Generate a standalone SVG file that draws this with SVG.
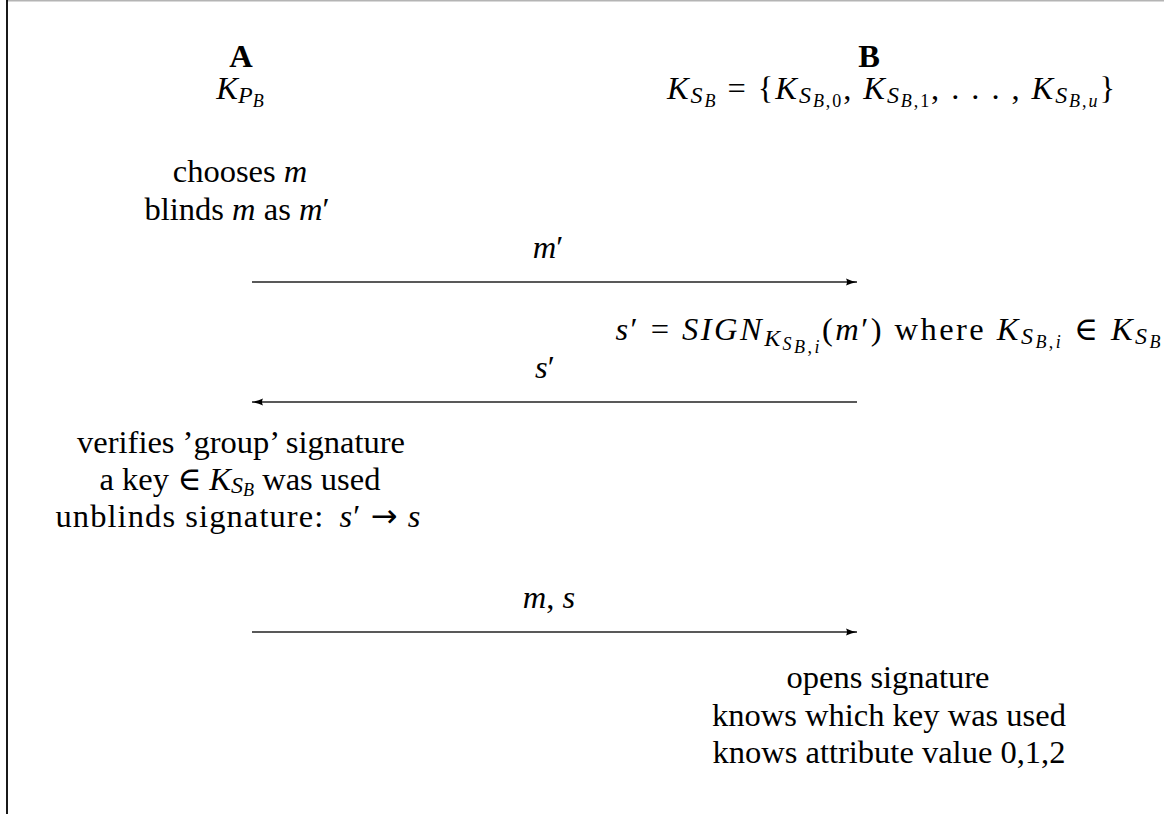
<svg xmlns="http://www.w3.org/2000/svg" width="1164" height="814" viewBox="0 0 1164 814">
<style>
.t{font-family:"Liberation Serif","DejaVu Serif",serif;font-size:32.5px;fill:#000}
.i{font-style:italic}
.b{font-weight:bold}
.s1{font-size:24px}
.s2{font-size:18px}
.c{text-anchor:middle}
.ar{font-family:"DejaVu Sans",sans-serif;font-size:32px}
.arr{stroke:#222;stroke-width:1.3;fill:none;marker-end:url(#ah)}
</style>
<defs>
<marker id="ah" markerUnits="userSpaceOnUse" markerWidth="12" markerHeight="8" refX="11" refY="4" orient="auto">
<path d="M0,0.5 Q5,3 11,4 Q5,5 0,7.5 Q2,4 0,0.5 z" fill="#000"/>
</marker>
</defs>
<rect width="1164" height="814" fill="#fff"/>
<line x1="7" y1="0.7" x2="1164" y2="0.7" stroke="#b4b4b4" stroke-width="1.5"/>
<line x1="7" y1="0" x2="7" y2="814" stroke="#000" stroke-width="1.8"/>

<g id="partyA">
<text class="t c b" x="241" y="67">A</text>
<text class="t c" x="240" y="99"><tspan class="i">K</tspan><tspan class="s1 i" dy="4">P</tspan><tspan class="s2 i" dy="4">B</tspan></text>
</g>

<g id="partyB">
<text class="t c b" x="869" y="67">B</text>
<text class="t c" x="891" y="99" textLength="448" lengthAdjust="spacing"><tspan class="i">K</tspan><tspan class="s1 i" dy="4">S</tspan><tspan class="s2 i" dy="4">B</tspan><tspan dy="-8"> = {</tspan><tspan class="i">K</tspan><tspan class="s1 i" dy="4">S</tspan><tspan class="s2" dy="4"><tspan class="i">B</tspan>,0</tspan><tspan dy="-8">, </tspan><tspan class="i">K</tspan><tspan class="s1 i" dy="4">S</tspan><tspan class="s2" dy="4"><tspan class="i">B</tspan>,1</tspan><tspan dy="-8">, . . . , </tspan><tspan class="i">K</tspan><tspan class="s1 i" dy="4">S</tspan><tspan class="s2" dy="4"><tspan class="i">B</tspan>,<tspan class="i">u</tspan></tspan><tspan dy="-8">}</tspan></text>
</g>

<g id="stepA1">
<text class="t c" x="240" y="182">chooses <tspan class="i">m</tspan></text>
<text class="t c" x="237" y="220">blinds <tspan class="i">m</tspan> as <tspan class="i">m</tspan>′</text>
</g>

<g id="stepB1">
<text class="t c" x="888" y="340" textLength="545" lengthAdjust="spacing"><tspan class="i">s</tspan>′ = <tspan class="i">SIGN</tspan><tspan class="s1 i" dy="6">K</tspan><tspan class="s2 i" dy="4">S</tspan><tspan class="s2" dy="3" font-size="15"><tspan class="i">B</tspan>,<tspan class="i">i</tspan></tspan><tspan dy="-13">(</tspan><tspan class="i">m</tspan>′) where <tspan class="i">K</tspan><tspan class="s1 i" dy="4">S</tspan><tspan class="s2" dy="4"><tspan class="i">B</tspan>,<tspan class="i">i</tspan></tspan><tspan dy="-8"> ∈ </tspan><tspan class="i">K</tspan><tspan class="s1 i" dy="4">S</tspan><tspan class="s2 i" dy="4">B</tspan></text>
</g>

<g id="stepA2">
<text class="t c" x="241" y="453">verifies ’group’ signature</text>
<text class="t c" x="240" y="490">a key ∈ <tspan class="i">K</tspan><tspan class="s1 i" dy="3" font-size="23">S</tspan><tspan class="s2 i" dy="3" font-size="17">B</tspan><tspan dy="-6"> was used</tspan></text>
<text class="t c" x="238" y="527" textLength="365" lengthAdjust="spacing">unblinds signature: <tspan class="i" dx="6">s</tspan>′ <tspan class="ar">→</tspan> <tspan class="i">s</tspan></text>
</g>

<g id="stepB2">
<text class="t c" x="888" y="688">opens signature</text>
<text class="t c" x="889" y="726">knows which key was used</text>
<text class="t c" x="889" y="763">knows attribute value 0,1,2</text>
</g>

<g id="connectors">
<line class="arr" x1="252" y1="282" x2="857" y2="282"/>
<text class="t c" x="548" y="258"><tspan class="i">m</tspan>′</text>
<line class="arr" x1="857" y1="402" x2="252" y2="402"/>
<text class="t c" x="545" y="378"><tspan class="i">s</tspan>′</text>
<line class="arr" x1="252" y1="632" x2="857" y2="632"/>
<text class="t c" x="549" y="608"><tspan class="i">m</tspan>, <tspan class="i">s</tspan></text>
</g>
</svg>
